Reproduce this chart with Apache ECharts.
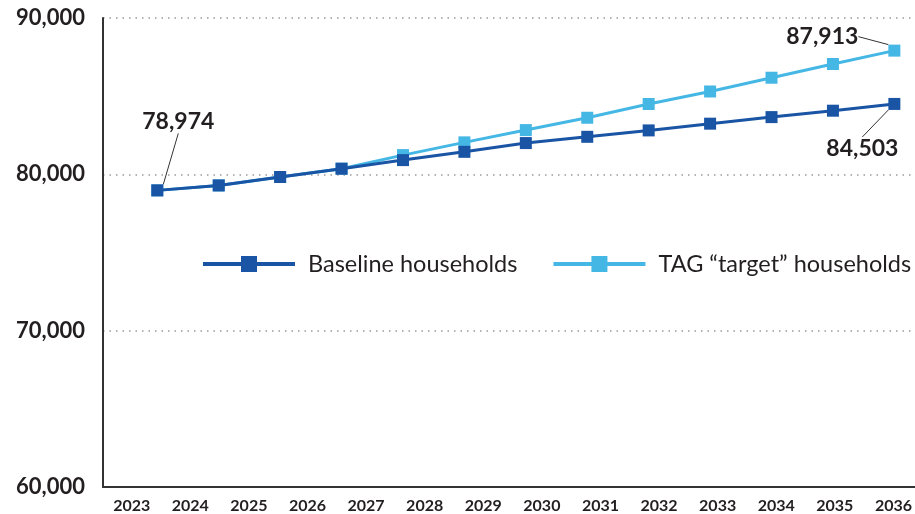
<!DOCTYPE html>
<html>
<head>
<meta charset="utf-8">
<title>Households projection</title>
<script src="https://cdn.jsdelivr.net/npm/echarts@6/dist/echarts.min.js"></script>
<style>
  html, body { margin: 0; padding: 0; background: #fff; }
  #main { width: 915px; height: 514px; }
</style>
</head>
<body>
<div id="main"></div>
<script>
// 横轴年份标签
var years = ['2023', '2024', '2025', '2026', '2027', '2028', '2029',
             '2030', '2031', '2032', '2033', '2034', '2035', '2036'];

// 数据点序号（原图中点位与年份标签并不对齐）
var pointIndex = [0, 1, 2, 3, 4, 5, 6, 7, 8, 9, 10, 11, 12];

var baseline = [78974, 79290, 79830, 80360, 80910, 81440, 82000,
                82400, 82810, 83240, 83660, 84070, 84503];
var target = [78974, 79290, 79830, 80360, 81230, 82045, 82830,
              83620, 84500, 85300, 86180, 87056, 87913];

var yTicks = [60000, 70000, 80000, 90000];

var darkBlue = '#1a54a4';
var lightBlue = '#45b7e5';
var textColor = '#231f20';

var labelFont = {
    show: true,
    fontFamily: 'Lato',
    fontWeight: 'bold',
    fontSize: 23,
    color: textColor,
    formatter: function(p) {
        return p.value[1].toLocaleString('en-US');
    }
};

function buildData(values, labelIdx, pos) {
    return values.map(function(v, i) {
        if (labelIdx.indexOf(i) >= 0) {
            return {
                value: [pointIndex[i], v],
                label: Object.assign({}, labelFont, { position: pos[labelIdx.indexOf(i)] })
            };
        }
        return [pointIndex[i], v];
    });
}

var chart = echarts.init(document.getElementById('main'));

chart.setOption({
    animation: false,
    textStyle: { fontFamily: 'Lato' },
    grid: [
        { left: 103, right: 0, top: 18, bottom: 27, containLabel: false },
        // 只用于放年份标签
        { left: 131.7, right: 21.2, top: 18, bottom: 27, containLabel: false }
    ],
    legend: {
        left: 201,
        top: 252,
        padding: 0,
        itemWidth: 92,
        itemHeight: 20,
        itemGap: 34,
        lineStyle: { width: 4 },
        textStyle: {
            fontFamily: 'Lato',
            fontSize: 23.5,
            color: textColor,
            padding: [0, 0, 0, 8]
        },
        data: ['Baseline households', 'TAG \u201ctarget\u201d households']
    },
    xAxis: [{
        type: 'value',
        gridIndex: 0,
        min: -0.884,
        max: 12.336,
        axisLine: { show: true, onZero: false, lineStyle: { color: '#333', width: 2 } },
        axisTick: { show: false },
        axisLabel: { show: false },
        splitLine: { show: false }
    }, {
        type: 'category',
        gridIndex: 1,
        data: years,
        boundaryGap: false,
        axisLine: { show: false },
        axisTick: { show: false },
        splitLine: { show: false },
        axisLabel: {
            fontFamily: 'Lato',
            fontWeight: 'bold',
            fontSize: 16,
            color: textColor,
            margin: 12,
            interval: 0
        }
    }],
    yAxis: [{
        type: 'value',
        gridIndex: 0,
        min: yTicks[0],
        max: yTicks[yTicks.length - 1],
        interval: 10000,
        axisLine: { show: true, onZero: false, lineStyle: { color: '#333', width: 2 } },
        axisTick: { show: false },
        axisLabel: {
            fontFamily: 'Lato',
            fontWeight: 'bold',
            fontSize: 22,
            color: textColor,
            margin: 18,
            formatter: function(v) { return v.toLocaleString('en-US'); }
        },
        splitLine: {
            show: true,
            lineStyle: { color: '#9a9a9a', width: 1.5, type: [1.5, 5] }
        }
    }, {
        type: 'value',
        gridIndex: 1,
        show: false
    }],
    series: [{
        name: 'TAG \u201ctarget\u201d households',
        type: 'line',
        xAxisIndex: 0,
        yAxisIndex: 0,
        z: 2,
        symbol: 'rect',
        symbolSize: 12,
        color: lightBlue,
        lineStyle: { color: lightBlue, width: 3 },
        itemStyle: { color: lightBlue },
        data: buildData(target, [12], ['left']),
        labelLine: { show: true, lineStyle: { color: '#333', width: 1 } },
        labelLayout: function(p) {
            if (p.dataIndex === 12) return { dx: -25, dy: -14 };
        }
    }, {
        name: 'Baseline households',
        type: 'line',
        xAxisIndex: 0,
        yAxisIndex: 0,
        z: 3,
        symbol: 'rect',
        symbolSize: 12,
        color: darkBlue,
        lineStyle: { color: darkBlue, width: 3 },
        itemStyle: { color: darkBlue },
        data: buildData(baseline, [0, 12], ['top', 'bottom']),
        labelLine: { show: true, lineStyle: { color: '#333', width: 1 } },
        labelLayout: function(p) {
            if (p.dataIndex === 0) return { dx: 21, dy: -46 };
            if (p.dataIndex === 12) return { dx: -32, dy: 22 };
        }
    }]
});
</script>
</body>
</html>
